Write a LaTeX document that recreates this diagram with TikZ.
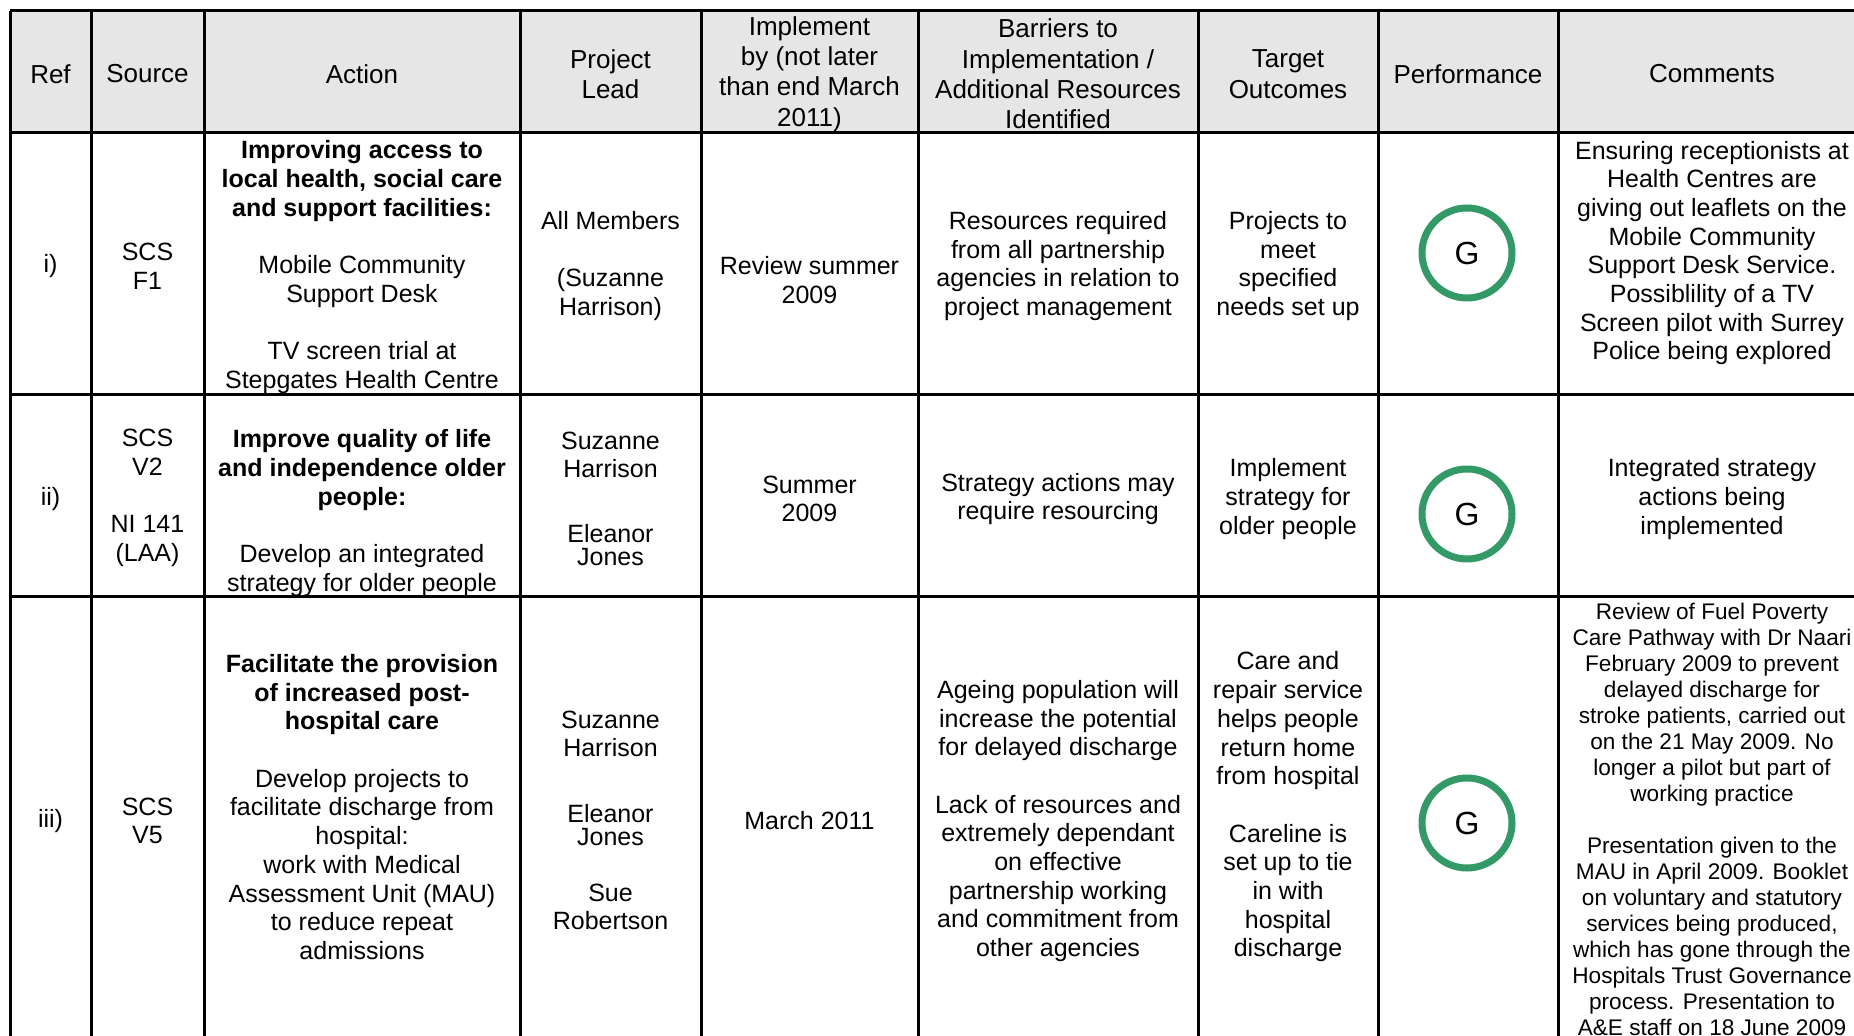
\documentclass[tikz,border=0pt]{standalone}
\usepackage{fontspec}
\setmainfont{Liberation Sans}
\definecolor{ragGreen}{RGB}{51,153,102}
\definecolor{headGray}{RGB}{230,230,230}
\begin{document}
\begin{tikzpicture}[x=0.5pt, y=-0.5pt]
  \useasboundingbox (0,0) rectangle (1854,1036);
  \clip (0,0) rectangle (1854,1036);

  \tikzset{
    rule/.style = {line width=1.5pt},
    head/.style = {align=center, yshift=-1pt, font=\fontsize{13pt}{15.2pt}\selectfont},
    cell/.style = {align=center, yshift=-1pt, font=\fontsize{12.5pt}{14.35pt}\selectfont},
    tight/.style = {align=center, yshift=-1pt, font=\fontsize{12.5pt}{11.25pt}\selectfont},
    note/.style = {align=center, font=\fontsize{11.3pt}{13pt}\selectfont},
    rag/.style = {circle, draw=ragGreen, line width=3.5pt, minimum size=45pt,
                  inner sep=0pt, font=\fontsize{16pt}{18pt}\selectfont},
  }

  % grid
  \fill[headGray] (10,11) rectangle (1870,133);
  \foreach \x in {10,91,204,520,701,918,1198,1378,1558}
    \draw[rule] (\x,11) -- (\x,1045);
  \foreach \y in {11,133,395,597}
    \draw[rule] (10,\y) -- (1870,\y);

  % header
  \node[head] (hRef) at (50.5,72) {Ref};
  \node[head] (hSource) at (147.5,72) {Source};
  \node[head] (hAction) at (362,72) {Action};
  \node[head] (hLead) at (610.5,72) {Project\\Lead};
  \node[head] (hBy) at (809.5,72) {Implement\\by (not later\\than end March\\2011)};
  \node[head] (hBarriers) at (1058,72) {Barriers to\\Implementation /\\Additional Resources\\Identified};
  \node[head] (hTarget) at (1288,72) {Target\\Outcomes};
  \node[head] (hPerf) at (1468,72) {Performance};
  \node[head] (hComments) at (1712,72) {Comments};

  % row i)
  \node[cell] (r1ref) at (50.5,264) {i)};
  \node[cell] (r1src) at (147.5,264) {SCS\\F1};
  \node[cell] (r1act) at (362,265) {\textbf{Improving access to}\\\textbf{local health, social care}\\\textbf{and support facilities:}\\[14.35pt]Mobile Community\\Support Desk\\[14.35pt]TV screen trial at\\Stepgates Health Centre};
  \node[cell] (r1lead) at (610.5,264) {All Members\\[14.35pt](Suzanne\\Harrison)};
  \node[cell] (r1by) at (809.5,278) {Review summer\\2009};
  \node[cell] (r1bar) at (1058,264) {Resources required\\from all partnership\\agencies in relation to\\project management};
  \node[cell] (r1tgt) at (1288,264) {Projects to\\meet\\specified\\needs set up};
  \node[cell] (r1com) at (1712,251) {Ensuring receptionists at\\Health Centres are\\giving out leaflets on the\\Mobile Community\\Support Desk Service.\\Possiblility of a TV\\Screen pilot with Surrey\\Police being explored};

  % row ii)
  \node[cell] (r2ref) at (50.5,497) {ii)};
  \node[cell] (r2src) at (147.5,496) {SCS\\V2\\[14.35pt]NI 141\\(LAA)};
  \node[cell] (r2act) at (362,511) {\textbf{Improve quality of life}\\\textbf{and independence older}\\\textbf{people:}\\[14.35pt]Develop an integrated\\strategy for older people};
  \node[cell] (r2leadA) at (610.5,453) {Suzanne\\Harrison};
  \node[tight] (r2leadB) at (610.5,543) {Eleanor\\Jones};
  \node[cell] (r2by) at (809.5,497) {Summer\\2009};
  \node[cell] (r2bar) at (1058,497) {Strategy actions may\\require resourcing};
  \node[cell] (r2tgt) at (1288,497) {Implement\\strategy for\\older people};
  \node[cell] (r2com) at (1712,497) {Integrated strategy\\actions being\\implemented};

  % row iii)
  \node[cell] (r3ref) at (50.5,819) {iii)};
  \node[cell] (r3src) at (147.5,819) {SCS\\V5};
  \node[cell] (r3act) at (362,805) {\textbf{Facilitate the provision}\\\textbf{of increased post-}\\\textbf{hospital care}\\[14.35pt]Develop projects to\\facilitate discharge from\\hospital:\\work with Medical\\Assessment Unit (MAU)\\to reduce repeat\\admissions};
  \node[cell] (r3leadA) at (610.5,732) {Suzanne\\Harrison};
  \node[tight] (r3leadB) at (610.5,823) {Eleanor\\Jones};
  \node[cell] (r3leadC) at (610.5,905) {Sue\\Robertson};
  \node[cell] (r3by) at (809.5,819) {March 2011};
  \node[cell] (r3bar) at (1058,819) {Ageing population will\\increase the potential\\for delayed discharge\\[14.35pt]Lack of resources and\\extremely dependant\\on effective\\partnership working\\and commitment from\\other agencies};
  \node[cell] (r3tgt) at (1288,805) {Care and\\repair service\\helps people\\return home\\from hospital\\[14.35pt]Careline is\\set up to tie\\in with\\hospital\\discharge};
  \node[note] (r3com) at (1712,819) {Review of Fuel Poverty\\Care Pathway with Dr Naari\\February 2009 to prevent\\delayed discharge for\\stroke patients, carried out\\on the 21 May 2009. No\\longer a pilot but part of\\working practice\\[13pt]Presentation given to the\\MAU in April 2009. Booklet\\on voluntary and statutory\\services being produced,\\which has gone through the\\Hospitals Trust Governance\\process. Presentation to\\A\&E staff on 18 June 2009};

  % performance
  \foreach \y/\n in {253/1, 514/2, 823/3}
    \node[rag] (g\n) at (1467,\y) {G};
\end{tikzpicture}
\end{document}
